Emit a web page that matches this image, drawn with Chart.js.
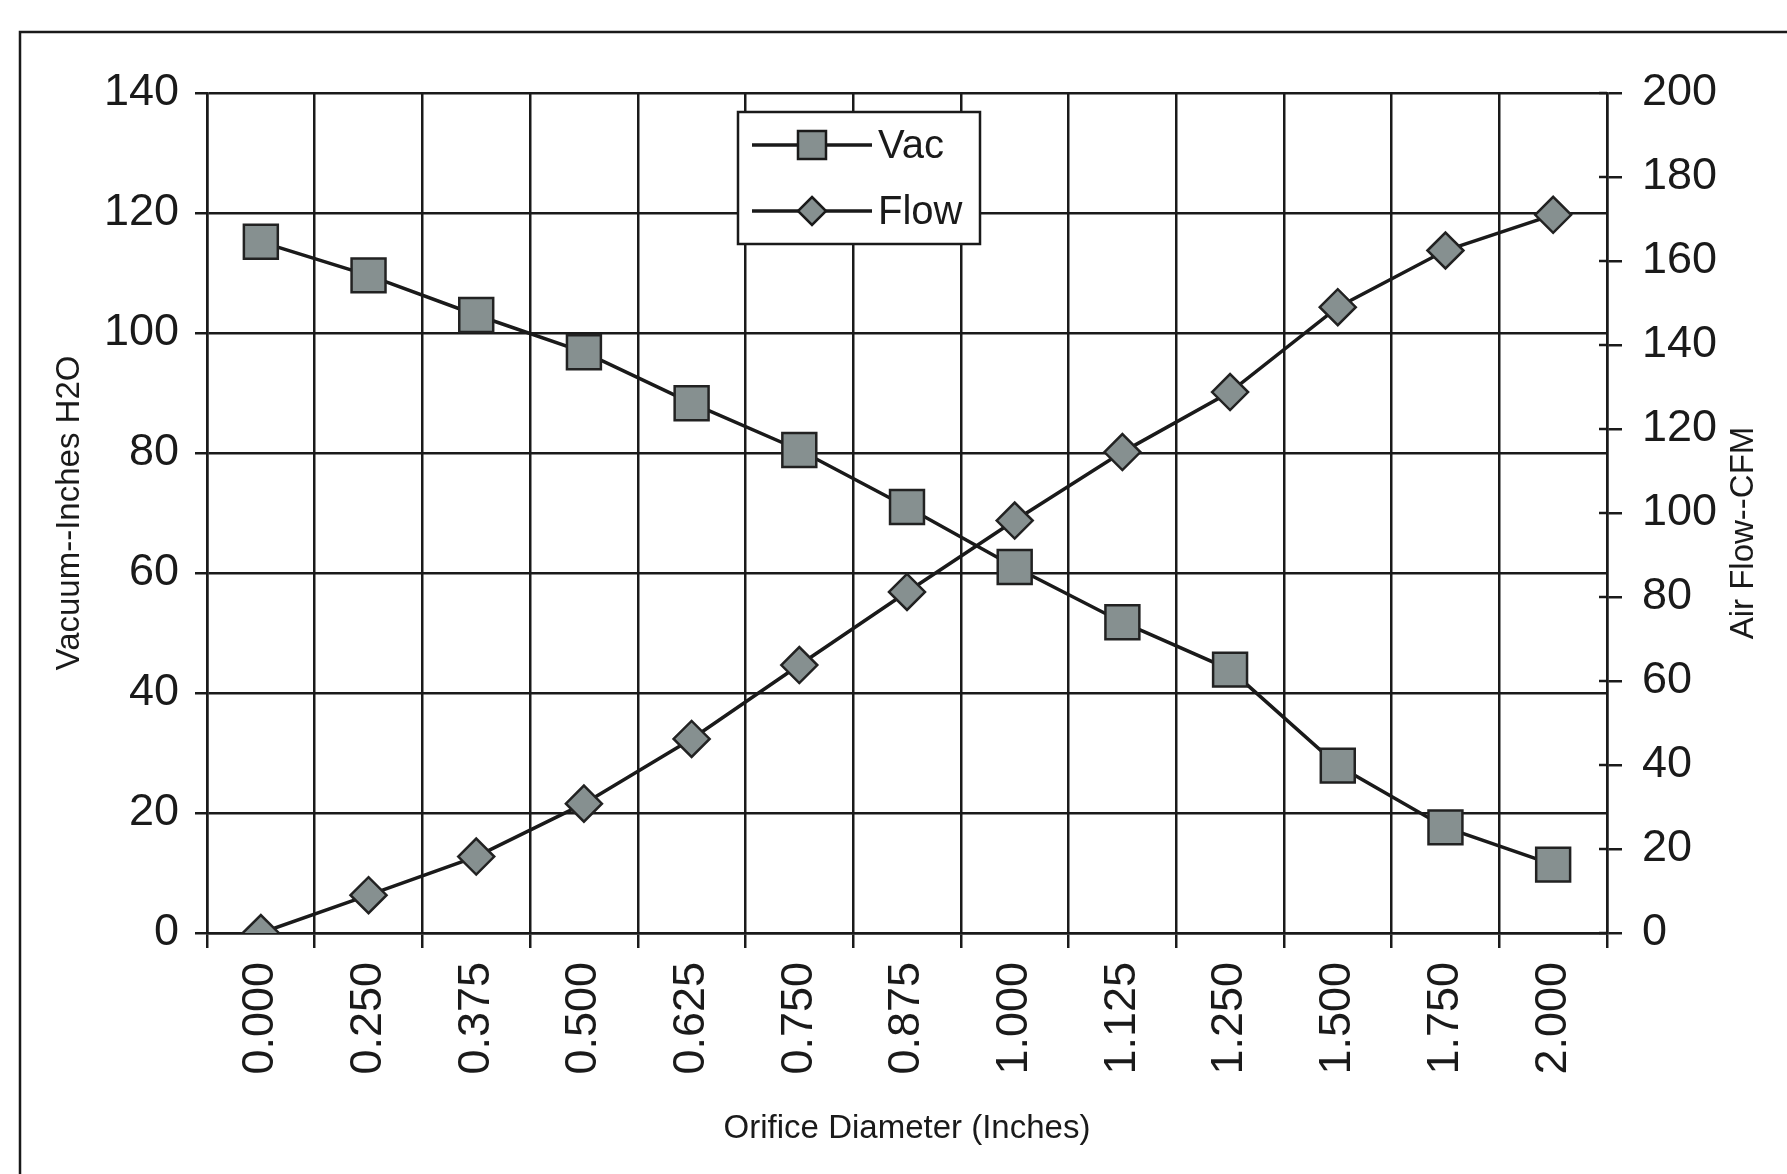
<!DOCTYPE html>
<html>
<head>
<meta charset="utf-8">
<title>Orifice Diameter vs Vacuum and Air Flow</title>
<script src="https://cdn.jsdelivr.net/npm/chart.js@4.4.1/dist/chart.umd.min.js"></script>
<style>
    html, body { margin: 0; padding: 0; background: #fff; }
    canvas { display: block; }
</style>
</head>
<body>
<canvas id="chart" width="1787" height="1174"></canvas>
<script>
// values
var diameters = ["0.000", "0.250", "0.375", "0.500", "0.625", "0.750", "0.875",
                 "1.000", "1.125", "1.250", "1.500", "1.750", "2.000"];
var vacValues = [115.2, 109.6, 103, 96.8, 88.3, 80.5, 71, 61, 51.8, 43.9, 27.9, 17.6, 11.4];
var flowValues = [0, 9, 18.2, 30.8, 46.2, 63.8, 81.2, 98.2, 114.5, 128.8, 149, 162.5, 171];
var vacTicks = [0, 20, 40, 60, 80, 100, 120, 140];
var flowTicks = [0, 20, 40, 60, 80, 100, 120, 140, 160, 180, 200];

var INK = "#1a1a1a";
var MARKER = "#869090";
var FONT = "'Liberation Sans', Arial, sans-serif";

Chart.defaults.font.family = FONT;
Chart.defaults.color = INK;

// page frame (scanned border, open on the right and bottom)
var framePlugin = {
    id: "frame",
    beforeDraw: function (chart) {
        var ctx = chart.ctx;
        ctx.save();
        ctx.fillStyle = "#fff";
        ctx.fillRect(0, 0, chart.width, chart.height);
        ctx.strokeStyle = INK;
        ctx.lineWidth = 2.5;
        ctx.strokeRect(20, 32, 1900, 1400);
        ctx.restore();
    }
};

function drawMarker(ctx, style, x, y, r) {
    ctx.beginPath();
    if (style == "rect") {
        ctx.rect(x - r, y - r, 2 * r, 2 * r);
    } else {
        ctx.moveTo(x, y - r);
        ctx.lineTo(x + r, y);
        ctx.lineTo(x, y + r);
        ctx.lineTo(x - r, y);
        ctx.closePath();
    }
    ctx.fill();
    ctx.stroke();
}

// boxed legend inside the plot, right axis inner ticks and its title
var extrasPlugin = {
    id: "extras",
    afterDraw: function (chart) {
        var ctx = chart.ctx;
        var s = chart.scales.y1;
        ctx.save();

        ctx.strokeStyle = INK;
        ctx.lineWidth = 2.5;
        for (var i = 0; i < s.ticks.length; i++) {
            var ty = s.getPixelForTick(i);
            ctx.beginPath();
            ctx.moveTo(s.left - 8, ty);
            ctx.lineTo(s.left, ty);
            ctx.stroke();
        }

        ctx.fillStyle = INK;
        ctx.font = "33px " + FONT;
        ctx.textAlign = "center";
        ctx.textBaseline = "middle";
        ctx.translate(1744, (chart.chartArea.top + chart.chartArea.bottom) / 2 + 20);
        ctx.rotate(-Math.PI / 2);
        ctx.fillText("Air Flow--CFM", 0, 0);
        ctx.setTransform(1, 0, 0, 1, 0, 0);

        var bx = 738, by = 112, bw = 242, bh = 132;
        ctx.fillStyle = "#fff";
        ctx.fillRect(bx, by, bw, bh);
        ctx.strokeStyle = INK;
        ctx.lineWidth = 2.5;
        ctx.strokeRect(bx, by, bw, bh);

        var sets = chart.data.datasets;
        for (var k = 0; k < sets.length; k++) {
            var ly = by + 33 + k * 66;
            ctx.strokeStyle = INK;
            ctx.lineWidth = 3.5;
            ctx.beginPath();
            ctx.moveTo(bx + 14, ly);
            ctx.lineTo(bx + 134, ly);
            ctx.stroke();
            ctx.fillStyle = MARKER;
            ctx.lineWidth = 2.5;
            drawMarker(ctx, sets[k].pointStyle, bx + 74, ly, sets[k].pointStyle == "rect" ? 14 : 14);
            ctx.fillStyle = INK;
            ctx.font = "40px " + FONT;
            ctx.textAlign = "left";
            ctx.textBaseline = "middle";
            ctx.fillText(sets[k].label, bx + 140, ly + 2);
        }
        ctx.restore();
    }
};

var chart = new Chart(document.getElementById("chart"), {
    type: "line",
    data: {
        labels: diameters,
        datasets: [
            {
                label: "Vac",
                data: vacValues,
                yAxisID: "y",
                borderColor: INK,
                borderWidth: 3.5,
                pointStyle: "rect",
                pointRadius: 24,
                pointBackgroundColor: MARKER,
                pointBorderColor: "#222",
                pointBorderWidth: 2.5,
                tension: 0
            },
            {
                label: "Flow",
                data: flowValues,
                yAxisID: "y1",
                borderColor: INK,
                borderWidth: 3.5,
                pointStyle: "rectRot",
                pointRadius: 18,
                pointBackgroundColor: MARKER,
                pointBorderColor: "#222",
                pointBorderWidth: 2.5,
                tension: 0
            }
        ]
    },
    options: {
        responsive: false,
        animation: false,
        devicePixelRatio: 1,
        layout: {
            padding: { top: 93, left: 0, right: 0, bottom: 0 }
        },
        plugins: {
            legend: { display: false },
            tooltip: { enabled: false }
        },
        scales: {
            x: {
                offset: true,
                grid: { offset: true, color: INK, lineWidth: 2.5, tickLength: 15 },
                border: { color: INK, width: 2.5 },
                ticks: {
                    autoSkip: false,
                    minRotation: 90,
                    maxRotation: 90,
                    padding: 14,
                    color: INK,
                    font: { size: 45 }
                },
                title: {
                    display: true,
                    text: "Orifice Diameter (Inches)",
                    color: INK,
                    font: { size: 33 },
                    padding: { top: 0, bottom: 25 }
                },
                afterFit: function (scale) { scale.height = 241; }
            },
            y: {
                position: "left",
                min: vacTicks[0],
                max: vacTicks[vacTicks.length - 1],
                ticks: {
                    stepSize: vacTicks[1] - vacTicks[0],
                    padding: 16,
                    color: INK,
                    font: { size: 45 }
                },
                grid: { color: INK, lineWidth: 2.5, tickLength: 12 },
                border: { color: INK, width: 2.5 },
                title: {
                    display: true,
                    text: "Vacuum--Inches H2O",
                    color: INK,
                    font: { size: 33 },
                    padding: { top: 50, bottom: 0 }
                },
                afterFit: function (scale) { scale.width = 207; }
            },
            y1: {
                position: "right",
                min: flowTicks[0],
                max: flowTicks[flowTicks.length - 1],
                ticks: {
                    stepSize: flowTicks[1] - flowTicks[0],
                    padding: 20,
                    color: INK,
                    font: { size: 45 }
                },
                grid: { drawOnChartArea: false, color: INK, lineWidth: 2.5, tickLength: 15 },
                border: { color: INK, width: 2.5 },
                afterFit: function (scale) { scale.width = 180; }
            }
        }
    },
    plugins: [framePlugin, extrasPlugin]
});
</script>
</body>
</html>
